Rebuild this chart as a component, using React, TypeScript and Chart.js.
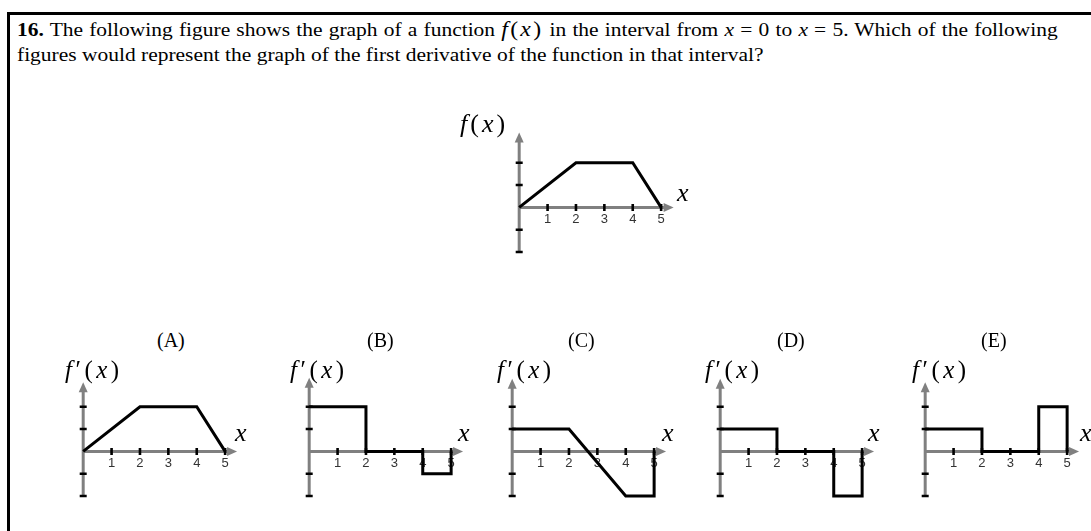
import React, { useEffect, useRef } from "react";
import { Chart, registerables } from "chart.js";

Chart.register(...registerables);

// ---------------- data ----------------
const X_TICKS = [1, 2, 3, 4, 5];
const X_TICK_LABELS = ["1", "2", "3", "4", "5"];
const Y_TICKS = [-2, -1, 1, 2];

// f(x)
const F_X = [0, 2, 4, 5];
const F_Y = [0, 2, 2, 0];
// (A)
const A_X = [0, 2, 4, 5];
const A_Y = [0, 2, 2, 0];
// (B)
const B_X = [0, 2, 2, 4, 4, 5, 5];
const B_Y = [2, 2, 0, 0, -1, -1, 0];
// (C)
const C_X = [0, 2, 4, 5, 5];
const C_Y = [1, 1, -2, -2, 0];
// (D)
const D_X = [0, 2, 2, 4, 4, 5, 5];
const D_Y = [1, 1, 0, 0, -2, -2, 0];
// (E)
const E_X = [0, 2, 2, 4, 4, 5, 5];
const E_Y = [1, 1, 0, 0, 2, 2, 0];

const OPTION_LETTERS = ["(A)", "(B)", "(C)", "(D)", "(E)"];

// ---------------- layout ----------------
const X_MIN = -0.5;
const X_MAX = 5.7;
const Y_MIN = -2.4;
const Y_MAX = 3.6;
const CW = 176;
const CH = 134;
const AXIS_GRAY = "#808080";
const SERIF = '"Liberation Serif", "Times New Roman", serif';

const arrowAxes = {
  id: "arrowAxes",
  beforeDatasetsDraw(chart: any, _args: any, opts: any) {
    const { ctx } = chart;
    const sx = chart.scales.x;
    const sy = chart.scales.y;
    const px = (v: number) => sx.getPixelForValue(v);
    const py = (v: number) => sy.getPixelForValue(v);
    const x0 = px(0);
    const y0 = py(0);
    const xTip = px(opts.xArrow);
    const yTip = py(opts.yArrow);
    const yBot = py(-2);
    const AH = 10;
    const AW = 4.5;
    ctx.save();
    ctx.strokeStyle = AXIS_GRAY;
    ctx.fillStyle = AXIS_GRAY;
    ctx.lineWidth = 3;
    ctx.lineCap = "butt";
    ctx.beginPath();
    ctx.moveTo(x0, yBot + 1);
    ctx.lineTo(x0, yTip + AH - 1);
    ctx.moveTo(x0 - 1.5, y0);
    ctx.lineTo(xTip - AH + 1, y0);
    ctx.stroke();
    ctx.beginPath();
    ctx.moveTo(x0, yTip);
    ctx.lineTo(x0 - AW, yTip + AH);
    ctx.lineTo(x0 + AW, yTip + AH);
    ctx.closePath();
    ctx.fill();
    ctx.beginPath();
    ctx.moveTo(xTip, y0);
    ctx.lineTo(xTip - AH, y0 - AW);
    ctx.lineTo(xTip - AH, y0 + AW);
    ctx.closePath();
    ctx.fill();
    ctx.strokeStyle = "#000";
    ctx.lineWidth = 2.6;
    ctx.beginPath();
    for (const v of X_TICKS) {
      const x = px(v);
      ctx.moveTo(x, y0 - 3.5);
      ctx.lineTo(x, y0 + 3.5);
    }
    for (const v of Y_TICKS) {
      const y = py(v);
      ctx.moveTo(x0 - 3.5, y);
      ctx.lineTo(x0 + 3.5, y);
    }
    ctx.stroke();
    ctx.fillStyle = "#333";
    ctx.font = '13px "Liberation Sans", Arial, sans-serif';
    ctx.textAlign = "center";
    ctx.textBaseline = "middle";
    X_TICKS.forEach((v, i) => ctx.fillText(X_TICK_LABELS[i], px(v), y0 + 12));
    ctx.restore();
  },
};

type GraphProps = {
  xs: number[];
  ys: number[];
  ox: number;
  oy: number;
  xArrow: number;
  yArrow: number;
};

function Graph({ xs, ys, ox, oy, xArrow, yArrow }: GraphProps) {
  const ref = useRef<HTMLCanvasElement | null>(null);
  useEffect(() => {
    const chart = new Chart(ref.current as HTMLCanvasElement, {
      type: "line",
      data: {
        datasets: [
          {
            data: xs.map((x, i) => ({ x, y: ys[i] })),
            borderColor: "#000",
            borderWidth: 3,
            pointRadius: 0,
            tension: 0,
            fill: false,
            borderJoinStyle: "miter",
            clip: false as any,
          } as any,
        ],
      },
      options: {
        animation: false,
        responsive: false,
        maintainAspectRatio: false,
        events: [],
        layout: { padding: 0 },
        plugins: {
          legend: { display: false },
          tooltip: { enabled: false },
          arrowAxes: { xArrow, yArrow },
        } as any,
        scales: {
          x: { type: "linear", min: X_MIN, max: X_MAX, display: false },
          y: { type: "linear", min: Y_MIN, max: Y_MAX, display: false },
        },
      },
      plugins: [arrowAxes as any],
    });
    return () => chart.destroy();
  }, []);
  const ux = CW / (X_MAX - X_MIN);
  const uy = CH / (Y_MAX - Y_MIN);
  const left = Math.round(ox + X_MIN * ux);
  const top = Math.round(oy - Y_MAX * uy);
  return (
    <canvas
      ref={ref}
      width={CW}
      height={CH}
      style={{ position: "absolute", left, top, width: CW, height: CH }}
    />
  );
}

const abs = (left: number, top: number, size: number): React.CSSProperties => ({
  position: "absolute",
  left,
  top,
  fontSize: size,
  lineHeight: 1,
  whiteSpace: "nowrap",
  fontFamily: SERIF,
  color: "#000",
});

function FPrime({ left, top }: { left: number; top: number }) {
  return (
    <span style={{ ...abs(left, top, 25), letterSpacing: 3.5 }}>
      <i>f</i>′(<i>x</i>)
    </span>
  );
}

function XLabel({ left, top }: { left: number; top: number }) {
  return (
    <span style={abs(left, top, 26)}>
      <i>x</i>
    </span>
  );
}

const OPTIONS = [
  { xs: A_X, ys: A_Y, ox: 83, oy: 451, yArrow: 3.1, title: 172, fp: 65, xl: 235 },
  { xs: B_X, ys: B_Y, ox: 309, oy: 451, yArrow: 3.3, title: 382, fp: 290, xl: 458 },
  { xs: C_X, ys: C_Y, ox: 512, oy: 451, yArrow: 3.25, title: 583, fp: 497, xl: 662 },
  { xs: D_X, ys: D_Y, ox: 720, oy: 451, yArrow: 3.25, title: 792, fp: 705, xl: 868 },
  { xs: E_X, ys: E_Y, ox: 925, oy: 451, yArrow: 3.1, title: 996, fp: 912, xl: 1080 },
];

export default function App() {
  return (
    <div
      style={{
        position: "absolute",
        left: 0,
        top: 0,
        width: 1091,
        height: 531,
        overflow: "hidden",
        background: "#fff",
        fontFamily: SERIF,
      }}
    >
      <div
        style={{
          position: "absolute",
          left: 7,
          top: 12,
          width: 1100,
          height: 540,
          borderLeft: "3px solid #000",
          borderTop: "3px solid #000",
        }}
      />
      <div
        style={{
          position: "absolute",
          left: 17,
          top: 17,
          fontSize: 19,
          lineHeight: "25px",
          whiteSpace: "nowrap",
          transform: "scaleX(1.13)",
          transformOrigin: "0 0",
          color: "#000",
        }}
      >
        <div
          style={{
            width: 921,
            textAlign: "justify",
            textAlignLast: "justify",
            whiteSpace: "normal",
          }}
        >
          <b>16.</b> The following figure shows the graph of a function{" "}
          <span style={{ fontSize: 21, letterSpacing: 2 }}>
            <i>f</i>(<i>x</i>)
          </span>{" "}
          in the interval from <i>x</i>&nbsp;=&nbsp;0 to <i>x</i>&nbsp;=&nbsp;5. Which of the following
        </div>
        <div>figures would represent the graph of the first derivative of the function in that interval?</div>
      </div>

      {/* top graph f(x) */}
      <Graph xs={F_X} ys={F_Y} ox={519} oy={207} xArrow={5.44} yArrow={3.35} />
      <span style={{ ...abs(460, 111, 26), letterSpacing: 3 }}>
        <i>f</i>(<i>x</i>)
      </span>
      <XLabel left={677} top={180} />

      {OPTIONS.map((o, i) => (
        <React.Fragment key={i}>
          <Graph xs={o.xs} ys={o.ys} ox={o.ox} oy={o.oy} xArrow={5.42} yArrow={o.yArrow} />
          <span style={{ ...abs(o.title - 15, 330, 20) }}>{OPTION_LETTERS[i]}</span>
          <FPrime left={o.fp} top={357} />
          <XLabel left={o.xl} top={420} />
        </React.Fragment>
      ))}
    </div>
  );
}
